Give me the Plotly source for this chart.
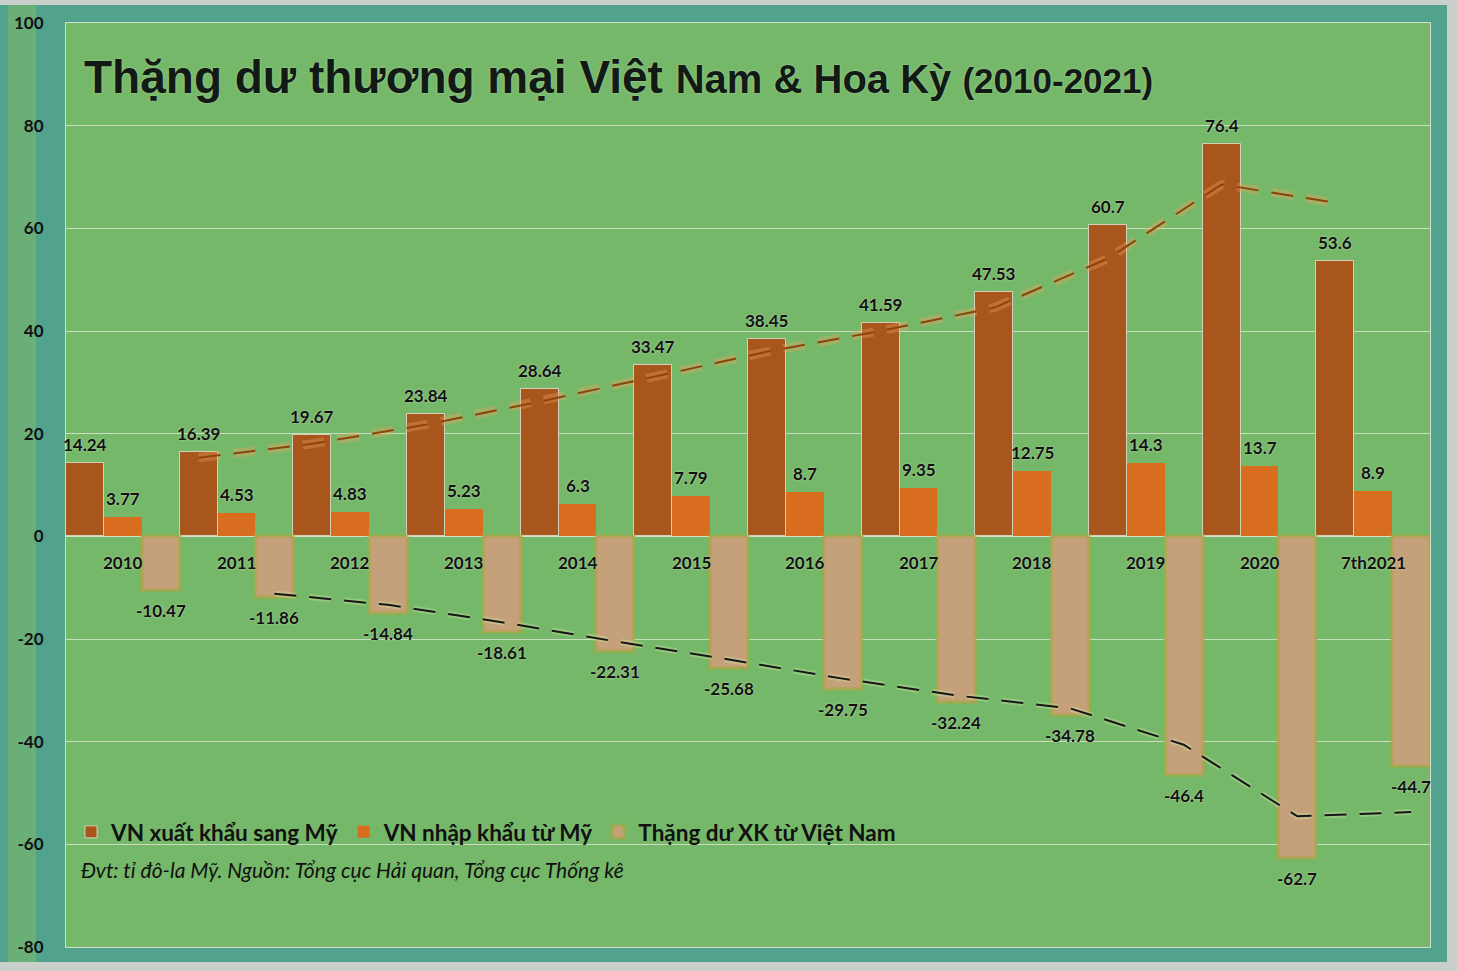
import plotly.graph_objects as go

# ---------------- data ----------------
categories = ["2010", "2011", "2012", "2013", "2014", "2015", "2016", "2017",
              "2018", "2019", "2020", "7th2021"]
export_vals = [14.24, 16.39, 19.67, 23.84, 28.64, 33.47, 38.45, 41.59, 47.53, 60.7, 76.4, 53.6]
import_vals = [3.77, 4.53, 4.83, 5.23, 6.3, 7.79, 8.7, 9.35, 12.75, 14.3, 13.7, 8.9]
surplus_vals = [-10.47, -11.86, -14.84, -18.61, -22.31, -25.68, -29.75, -32.24, -34.78, -46.4, -62.7, -44.7]
# dashed trend lines (2-period moving averages), values from 2011 onward
trend_export = [15.32, 18.03, 21.76, 26.24, 31.06, 35.96, 40.02, 44.56, 54.12, 68.55, 65.0]
trend_surplus = [-11.17, -13.35, -16.73, -20.46, -24.0, -27.72, -31.0, -33.51, -40.59, -54.55, -53.7]
y_ticks = [-80, -60, -40, -20, 0, 20, 40, 60, 80, 100]
y_tick_text = ["-80", "-60", "-40", "-20", "0", "20", "40", "60", "80", "100"]

series_names = ["VN xuất khẩu sang Mỹ", "VN nhập khẩu từ Mỹ", "Thặng dư XK từ Việt Nam"]
title_parts = ["Thặng dư thương mại Việt", "Nam & Hoa Kỳ", "(2010-2021)"]
footnote = "Đvt: tỉ đô-la Mỹ. Nguồn: Tổng cục Hải quan, Tổng cục Thống kê"

# ---------------- style ----------------
W, H = 1457, 971
ML, MR, MT, MB = 66, 27, 21, 24
PLOT_BG = "#76b869"
TEAL = "#52a38d"
C_EXP = "#a8561c"
C_IMP = "#d96d1f"
C_SUR = "#c4a17a"
LABEL_FONT = dict(family="Lato", size=17, color="#111111", weight=700,
                  shadow="0px 0px 2px rgba(230,240,220,0.7)")

idx = list(range(len(categories)))
n_series = 3
bw = 1.0 / n_series  # bar width with bargap=0

fig = go.Figure()

fig.add_trace(go.Bar(
    x=idx, y=export_vals, name=series_names[0],
    marker=dict(color=C_EXP, line=dict(color="rgba(225,220,205,0.85)", width=1)),
))
fig.add_trace(go.Bar(
    x=idx, y=import_vals, name=series_names[1],
    marker=dict(color=C_IMP, line=dict(color="rgba(0,0,0,0)", width=0)),
))
fig.add_trace(go.Bar(
    x=idx, y=surplus_vals, name=series_names[2],
    marker=dict(color=C_SUR, line=dict(color="rgba(170,165,60,0.5)", width=4)),
))

# trend lines (positioned at the export / surplus bar centres)
x_exp = [i - bw for i in idx[1:]]
x_sur = [i + bw for i in idx[1:]]
fig.add_trace(go.Scatter(x=x_exp, y=trend_export, mode="lines", showlegend=False,
                         hoverinfo="skip",
                         line=dict(color="rgba(240,160,95,0.35)", width=9, dash="22px,13px")))
fig.add_trace(go.Scatter(x=x_exp, y=trend_export, mode="lines", showlegend=False,
                         hoverinfo="skip",
                         line=dict(color="#8e420c", width=2, dash="22px,13px")))
fig.add_trace(go.Scatter(x=x_sur, y=trend_surplus, mode="lines", showlegend=False,
                         hoverinfo="skip",
                         line=dict(color="rgba(210,230,170,0.35)", width=6, dash="22px,13px")))
fig.add_trace(go.Scatter(x=x_sur, y=trend_surplus, mode="lines", showlegend=False,
                         hoverinfo="skip",
                         line=dict(color="#151515", width=2, dash="22px,13px")))

annotations = []
# value labels
for k, vals in enumerate([export_vals, import_vals, surplus_vals]):
    off = (k - 1) * bw
    for i, v in zip(idx, vals):
        annotations.append(dict(x=i + off, y=v, xref="x", yref="y", text=str(v),
                                showarrow=False,
                                yanchor="bottom" if v >= 0 else "top",
                                yshift=6 if v >= 0 else -8,
                                font=LABEL_FONT))
# category labels sitting just under the zero line
for i, c in zip(idx, categories):
    annotations.append(dict(x=i, y=0, xref="x", yref="y", text=c, showarrow=False,
                            yshift=-26, font=LABEL_FONT))

pw = W - ML - MR
ph = H - MT - MB


def px_x(px):
    return (px - ML) / pw


def px_y(py):
    return (H - MB - py) / ph


title_html = (f"<span style='font-size:46px'>{title_parts[0]} </span>"
              f"<span style='font-size:40px'>{title_parts[1]} </span>"
              f"<span style='font-size:35px'>{title_parts[2]}</span>")
annotations.append(dict(x=px_x(82), y=px_y(75), xref="paper", yref="paper",
                        xanchor="left", yanchor="middle", showarrow=False,
                        text=title_html,
                        font=dict(family="Liberation Sans", size=40, color="#111a14",
                                  weight=700,
                                  shadow="0px 0px 2px rgba(200,230,190,0.8)")))
annotations.append(dict(x=px_x(79), y=px_y(869), xref="paper", yref="paper",
                        xanchor="left", yanchor="middle", showarrow=False,
                        text=f"<i>{footnote}</i>",
                        font=dict(family="Lato", size=21, color="#111111")))

shapes = [
    # teal frame behind the plot area
    dict(type="rect", xref="paper", yref="paper", layer="below",
         x0=px_x(0), x1=px_x(1447), y0=px_y(962), y1=px_y(3),
         fillcolor=TEAL, line=dict(width=0)),
    dict(type="rect", xref="paper", yref="paper", layer="below",
         x0=px_x(8), x1=px_x(36), y0=px_y(962), y1=px_y(3),
         fillcolor="#6aaf78", line=dict(width=0)),
    # green plot area
    dict(type="rect", xref="paper", yref="paper", layer="below",
         x0=0, x1=1, y0=0, y1=1,
         fillcolor=PLOT_BG, line=dict(width=0)),
]

fig.update_layout(
    width=W, height=H,
    margin=dict(l=ML, r=MR, t=MT, b=MB),
    paper_bgcolor="#c9cfcb",
    plot_bgcolor=PLOT_BG,
    barmode="group", bargap=0, bargroupgap=0,
    showlegend=True,
    legend=dict(orientation="h", x=px_x(71), y=px_y(832), xanchor="left", yanchor="middle",
                bgcolor="rgba(0,0,0,0)", itemwidth=30, traceorder="normal",
                font=dict(family="Lato", size=22.5, color="#111111", weight=700)),
    annotations=annotations,
    shapes=shapes,
    font=dict(family="Lato"),
)
fig.update_xaxes(range=[-0.5, len(categories) - 0.5], showticklabels=False,
                 showgrid=False, zeroline=False, showline=True, mirror=True,
                 linecolor="#d6dfcf", linewidth=1, fixedrange=True)
fig.update_yaxes(range=[-80, 100], tickvals=y_ticks, ticktext=y_tick_text, showgrid=True,
                 gridcolor="rgba(225,230,215,0.8)", gridwidth=1,
                 zeroline=True, zerolinecolor="rgba(225,230,215,0.9)", zerolinewidth=1,
                 showline=True, mirror=True, linecolor="#d6dfcf", linewidth=1,
                 ticks="", ticklabelstandoff=18,
                 tickfont=dict(family="Lato", size=17, color="#111111", weight=700),
                 fixedrange=True)

fig.write_html("out.html", config={"displayModeBar": False},
               post_script="document.body.style.margin='0';")
